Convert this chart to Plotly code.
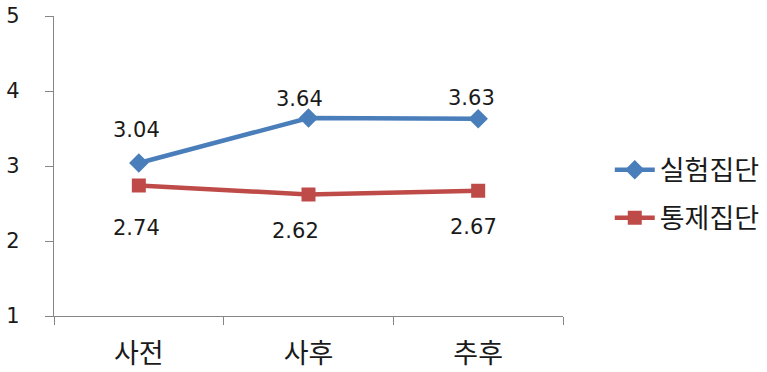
import plotly.graph_objects as go

categories = ["사전", "사후", "추후"]
experimental = [3.04, 3.64, 3.63]
control = [2.74, 2.62, 2.67]
series_names = ["실험집단", "통제집단"]
y_ticks = [1, 2, 3, 4, 5]

# label placement (pixel offsets from each point)
exp_label_shift = [(-2, 33), (-9, 19), (-7, 21)]
ctl_label_shift = [(-2, -42), (-13, -36), (-5, -36)]

BLUE = "#4A7EBB"
RED = "#BE4B48"
AXIS = "#868686"
KR_FONT = "Noto Sans CJK KR"
NUM_FONT = "DejaVu Sans"
TEXT = "#1a1a1a"

fig = go.Figure()
fig.add_trace(go.Scatter(
    x=categories, y=experimental, name=series_names[0], mode="lines+markers",
    line=dict(color=BLUE, width=4.5),
    marker=dict(symbol="diamond", size=15, color=BLUE),
    legendgroup="a",
))
fig.add_trace(go.Scatter(
    x=categories, y=control, name=series_names[1], mode="lines+markers",
    line=dict(color=RED, width=4.5),
    marker=dict(symbol="square", size=14, color=RED),
    legendgroup="b",
))

# value labels: experimental above the points, control below
for values, shifts in ((experimental, exp_label_shift), (control, ctl_label_shift)):
    for c, v, (dx, dy) in zip(categories, values, shifts):
        fig.add_annotation(x=c, y=v, text=f"{v:.2f}", showarrow=False,
                           xshift=dx, yshift=dy,
                           font=dict(family=NUM_FONT, size=21, color=TEXT))

fig.update_layout(
    width=767, height=372,
    margin=dict(l=54, r=204, t=16, b=56),
    paper_bgcolor="white", plot_bgcolor="white",
    font=dict(family=KR_FONT, size=20, color=TEXT),
    showlegend=True,
    legend=dict(
        xref="container", yref="container",
        x=0.795, y=0.478, xanchor="left", yanchor="middle",
        font=dict(family=KR_FONT, size=27, color=TEXT),
        traceorder="grouped", tracegroupgap=10,
        itemwidth=40, bgcolor="rgba(0,0,0,0)",
    ),
    xaxis=dict(
        type="category", range=[-0.5, 2.5], automargin=False,
        showline=True, linecolor=AXIS, linewidth=1.3,
        ticks="outside", tickson="boundaries", ticklen=8, tickcolor=AXIS,
        showgrid=False, zeroline=False,
        tickfont=dict(family=KR_FONT, size=27, color=TEXT),
        ticklabelstandoff=13,
    ),
    yaxis=dict(
        range=[1, 5], tickvals=y_ticks, automargin=False,
        showline=True, linecolor=AXIS, linewidth=1.3,
        ticks="outside", ticklen=8, tickcolor=AXIS,
        showgrid=False, zeroline=False,
        tickfont=dict(family=NUM_FONT, size=21, color=TEXT),
        ticklabelstandoff=21,
    ),
)

fig.write_html("out.html")
